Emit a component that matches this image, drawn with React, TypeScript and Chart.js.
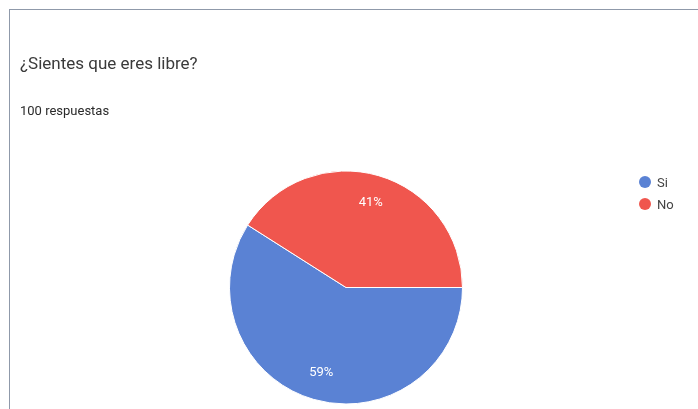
import React, { useEffect, useRef } from "react";
import { Chart, registerables } from "chart.js";

Chart.register(...registerables);

const title = "¿Sientes que eres libre?";
const subtitle = "100 respuestas";
const labels = ["Si", "No"];
const values = [59, 41];
const colors = ["#5a82d4", "#f0564e"];

const pctLabels = {
  id: "pctLabels",
  afterDatasetsDraw(chart: any) {
    const ctx = chart.ctx;
    const meta = chart.getDatasetMeta(0);
    const data = chart.data.datasets[0].data as number[];
    const total = data.reduce((a, b) => a + b, 0);
    ctx.save();
    ctx.fillStyle = "#ffffff";
    ctx.font = "13px Roboto";
    ctx.textAlign = "center";
    ctx.textBaseline = "middle";
    meta.data.forEach((arc: any, i: number) => {
      const p = arc.getProps(["x", "y", "startAngle", "endAngle", "outerRadius"], true);
      const mid = (p.startAngle + p.endAngle) / 2;
      const r = p.outerRadius * 0.76;
      const x = p.x + Math.cos(mid) * r;
      const y = p.y + Math.sin(mid) * r;
      ctx.fillText(Math.round((data[i] / total) * 100) + "%", x, y);
    });
    ctx.restore();
  },
};

export default function App() {
  const ref = useRef<HTMLCanvasElement>(null);
  useEffect(() => {
    if (!ref.current) return;
    const chart = new Chart(ref.current, {
      type: "pie",
      data: {
        labels,
        datasets: [
          {
            data: values,
            backgroundColor: colors,
            borderColor: "#ffffff",
            borderWidth: 1,
          },
        ],
      },
      options: {
        animation: false,
        responsive: false,
        rotation: 90,
        layout: { padding: { left: 229, right: 235, top: 170, bottom: 4 } },
        plugins: {
          legend: { display: false },
          tooltip: { enabled: false },
        },
      },
      plugins: [pctLabels],
    });
    return () => chart.destroy();
  }, []);

  return (
    <div
      style={{
        position: "fixed",
        left: 0,
        top: 0,
        width: 698,
        height: 409,
        overflow: "hidden",
        background: "#ffffff",
        fontFamily: "Roboto, sans-serif",
      }}
    >
      <div
        style={{
          position: "absolute",
          left: 9,
          top: 9,
          width: 720,
          height: 440,
          border: "1px solid #8f99aa",
        }}
      />
      <canvas
        ref={ref}
        width={698}
        height={409}
        style={{ position: "absolute", left: 0, top: 0, width: 698, height: 409 }}
      />
      <div
        style={{
          position: "absolute",
          left: 20,
          top: 53,
          fontSize: 17,
          lineHeight: "20px",
          color: "#3a3a3a",
          whiteSpace: "nowrap",
        }}
      >
        {title}
      </div>
      <div
        style={{
          position: "absolute",
          left: 20,
          top: 103,
          fontSize: 13,
          lineHeight: "16px",
          color: "#2a2a2a",
          whiteSpace: "nowrap",
        }}
      >
        {subtitle}
      </div>
      {labels.map((l, i) => (
        <div
          key={l}
          style={{
            position: "absolute",
            left: 639,
            top: 175 + i * 22,
            height: 14,
            display: "flex",
            alignItems: "center",
            whiteSpace: "nowrap",
          }}
        >
          <span
            style={{
              display: "inline-block",
              width: 12,
              height: 12,
              borderRadius: "50%",
              background: colors[i],
              marginRight: 6,
            }}
          />
          <span style={{ fontSize: 13, color: "#444444" }}>{l}</span>
        </div>
      ))}
    </div>
  );
}
